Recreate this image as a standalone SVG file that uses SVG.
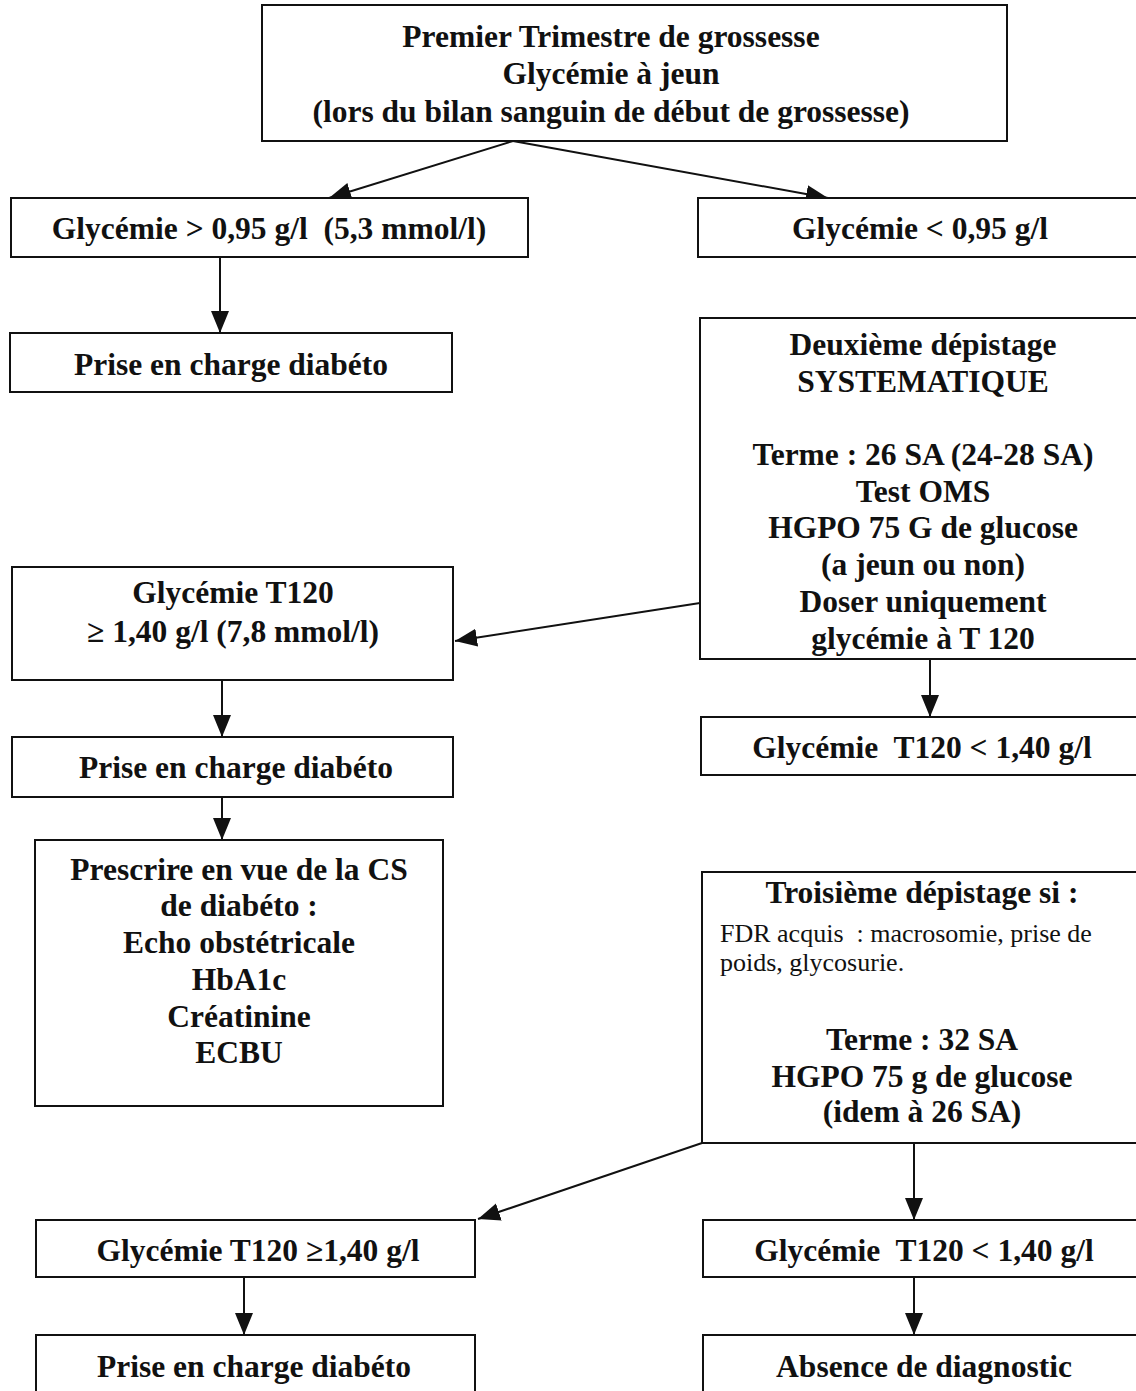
<svg xmlns="http://www.w3.org/2000/svg" width="1136" height="1391" viewBox="0 0 1136 1391">
<style>
.box{fill:#fff;stroke:#111;stroke-width:2}
.t{font-family:"Liberation Serif","Times New Roman",serif;font-weight:bold;font-size:31.5px;fill:#111;text-anchor:middle}
.s{font-family:"Liberation Serif","Times New Roman",serif;font-size:26px;fill:#111;white-space:pre}
.c{fill:none;stroke:#111;stroke-width:2}
</style>
<defs>
<marker id="ah" markerUnits="userSpaceOnUse" markerWidth="24" markerHeight="20" refX="22" refY="9" orient="auto">
<path d="M0,0 L22,9 L0,18 z" fill="#111"/>
</marker>
<clipPath id="clipD"><rect x="700" y="318" width="436" height="341"/></clipPath>
</defs>
<rect width="1136" height="1391" fill="#fff"/>

<g id="connectors">
<line class="c" x1="513" y1="141" x2="329" y2="198" marker-end="url(#ah)"/>
<line class="c" x1="513" y1="141" x2="828" y2="198" marker-end="url(#ah)"/>
<line class="c" x1="220" y1="257" x2="220" y2="333" marker-end="url(#ah)"/>
<line class="c" x1="700" y1="603" x2="455" y2="641" marker-end="url(#ah)"/>
<line class="c" x1="222" y1="680" x2="222" y2="737" marker-end="url(#ah)"/>
<line class="c" x1="222" y1="797" x2="222" y2="840" marker-end="url(#ah)"/>
<line class="c" x1="930" y1="659" x2="930" y2="717" marker-end="url(#ah)"/>
<line class="c" x1="702" y1="1143" x2="478" y2="1219" marker-end="url(#ah)"/>
<line class="c" x1="914" y1="1143" x2="914" y2="1220" marker-end="url(#ah)"/>
<line class="c" x1="244" y1="1277" x2="244" y2="1335" marker-end="url(#ah)"/>
<line class="c" x1="914" y1="1277" x2="914" y2="1335" marker-end="url(#ah)"/>
</g>

<g id="n-premier">
<rect class="box" x="262" y="5" width="745" height="136"/>
<text class="t" x="611" y="47">Premier Trimestre de grossesse</text>
<text class="t" x="611" y="84">Glycémie à jeun</text>
<text class="t" x="611" y="122">(lors du bilan sanguin de début de grossesse)</text>
</g>

<g id="n-gly-sup">
<rect class="box" x="11" y="198" width="517" height="59"/>
<text class="t" x="269" y="239" style="white-space:pre">Glycémie &gt; 0,95 g/l  (5,3 mmol/l)</text>
</g>

<g id="n-gly-inf">
<rect class="box" x="698" y="198" width="440" height="59"/>
<text class="t" x="920" y="239">Glycémie &lt; 0,95 g/l</text>
</g>

<g id="n-prise1">
<rect class="box" x="10" y="333" width="442" height="59"/>
<text class="t" x="231" y="375">Prise en charge diabéto</text>
</g>

<g id="n-deuxieme">
<rect class="box" x="700" y="318" width="438" height="341"/>
<g clip-path="url(#clipD)">
<text class="t" x="923" y="355">Deuxième dépistage</text>
<text class="t" x="923" y="392">SYSTEMATIQUE</text>
<text class="t" x="923" y="465">Terme : 26 SA (24-28 SA)</text>
<text class="t" x="923" y="502">Test OMS</text>
<text class="t" x="923" y="538">HGPO 75 G de glucose</text>
<text class="t" x="923" y="575">(a jeun ou non)</text>
<text class="t" x="923" y="612">Doser uniquement</text>
<text class="t" x="923" y="649">glycémie à T 120</text>
</g>
</g>

<g id="n-t120-sup1">
<rect class="box" x="12" y="567" width="441" height="113"/>
<text class="t" x="233" y="603">Glycémie  T120</text>
<text class="t" x="233" y="642">≥ 1,40 g/l (7,8 mmol/l)</text>
</g>

<g id="n-prise2">
<rect class="box" x="12" y="737" width="441" height="60"/>
<text class="t" x="236" y="778">Prise en charge diabéto</text>
</g>

<g id="n-t120-inf1">
<rect class="box" x="701" y="717" width="437" height="58"/>
<text class="t" x="922" y="758" style="white-space:pre">Glycémie  T120 &lt; 1,40 g/l</text>
</g>

<g id="n-prescrire">
<rect class="box" x="35" y="840" width="408" height="266"/>
<text class="t" x="239" y="880">Prescrire en vue de la CS</text>
<text class="t" x="239" y="916">de diabéto :</text>
<text class="t" x="239" y="953">Echo obstétricale</text>
<text class="t" x="239" y="990">HbA1c</text>
<text class="t" x="239" y="1027">Créatinine</text>
<text class="t" x="239" y="1063">ECBU</text>
</g>

<g id="n-troisieme">
<rect class="box" x="702" y="872" width="436" height="271"/>
<text class="t" x="922" y="903">Troisième dépistage si :</text>
<text class="s" x="720" y="942">FDR acquis  : macrosomie, prise de</text>
<text class="s" x="720" y="971">poids, glycosurie.</text>
<text class="t" x="922" y="1050">Terme : 32 SA</text>
<text class="t" x="922" y="1087">HGPO 75 g de glucose</text>
<text class="t" x="922" y="1122">(idem à 26 SA)</text>
</g>

<g id="n-t120-sup2">
<rect class="box" x="36" y="1220" width="439" height="57"/>
<text class="t" x="258" y="1261">Glycémie  T120 ≥1,40 g/l</text>
</g>

<g id="n-t120-inf2">
<rect class="box" x="703" y="1220" width="435" height="57"/>
<text class="t" x="924" y="1261" style="white-space:pre">Glycémie  T120 &lt; 1,40 g/l</text>
</g>

<g id="n-prise3">
<rect class="box" x="36" y="1335" width="439" height="60"/>
<text class="t" x="254" y="1377">Prise en charge diabéto</text>
</g>

<g id="n-absence">
<rect class="box" x="703" y="1335" width="435" height="60"/>
<text class="t" x="924" y="1377">Absence de diagnostic</text>
</g>
</svg>
